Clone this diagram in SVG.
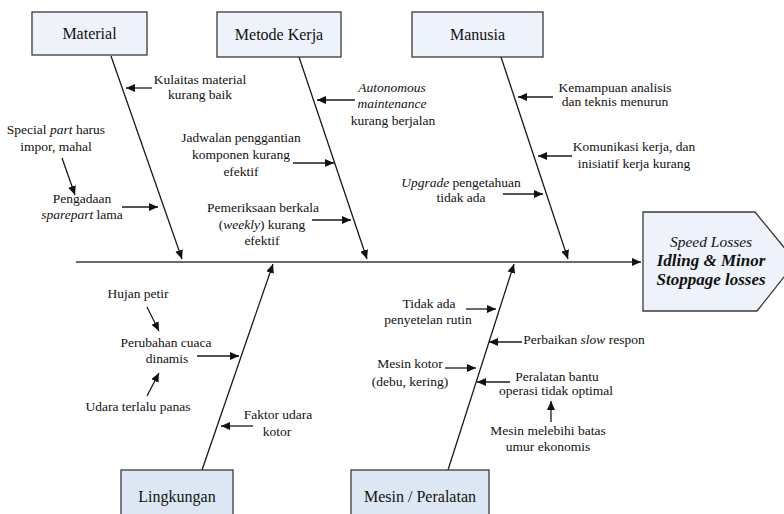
<svg xmlns="http://www.w3.org/2000/svg" width="784" height="514" viewBox="0 0 784 514">
<style>
text{font-family:"Liberation Serif","Times New Roman",serif;fill:#111;}
.lbl{font-size:13.5px;text-anchor:middle;}
.box{font-size:16px;text-anchor:middle;}
.bt{fill:#EEF2FA;stroke:#3a3a3a;stroke-width:1.3;}
.bb{fill:#DDE7F3;stroke:#3a3a3a;stroke-width:1.3;}
.ln{stroke:#1a1a1a;stroke-width:1.3;fill:none;marker-end:url(#ah);}
.sp{stroke:#3a3a3a;stroke-width:1.6;fill:none;marker-end:url(#ah);}
.it{font-style:italic;}
.hd{font-size:17px;font-style:italic;font-weight:bold;text-anchor:middle;}
</style>
<defs>
<marker id="ah" markerUnits="userSpaceOnUse" markerWidth="10" markerHeight="8" refX="9" refY="4" orient="auto">
<path d="M0,0 L9,4 L0,8 Z" fill="#111"/>
</marker>
</defs>
<rect width="784" height="514" fill="#fff"/>

<g id="connectors">
<line class="sp" x1="76" y1="262" x2="641" y2="262"/>
<line class="ln" x1="111" y1="56" x2="182" y2="259"/>
<line class="ln" x1="299" y1="57" x2="367" y2="259"/>
<line class="ln" x1="501" y1="57" x2="568" y2="259"/>
<line class="ln" x1="202" y1="470" x2="273" y2="264"/>
<line class="ln" x1="448" y1="470" x2="514" y2="264"/>
<line class="ln" x1="152" y1="88" x2="126" y2="88"/>
<line class="ln" x1="62" y1="158" x2="75" y2="195"/>
<line class="ln" x1="122" y1="207" x2="158" y2="207"/>
<line class="ln" x1="355" y1="100" x2="317" y2="100"/>
<line class="ln" x1="293" y1="163" x2="334" y2="163"/>
<line class="ln" x1="312" y1="220" x2="351" y2="220"/>
<line class="ln" x1="553" y1="97" x2="518" y2="97"/>
<line class="ln" x1="572" y1="156" x2="538" y2="156"/>
<line class="ln" x1="503" y1="194" x2="543" y2="194"/>
<line class="ln" x1="147" y1="307" x2="159" y2="331"/>
<line class="ln" x1="147" y1="396" x2="159" y2="373"/>
<line class="ln" x1="197" y1="356" x2="239" y2="356"/>
<line class="ln" x1="253" y1="426" x2="221" y2="426"/>
<line class="ln" x1="466" y1="309" x2="496" y2="309"/>
<line class="ln" x1="522" y1="342" x2="489" y2="342"/>
<line class="ln" x1="445" y1="368" x2="476" y2="368"/>
<line class="ln" x1="510" y1="382" x2="477" y2="382"/>
<line class="ln" x1="551" y1="422" x2="551" y2="401"/>
</g>

<g id="material">
<rect class="bt" x="32" y="12" width="115" height="43"/>
<text class="box" x="89.5" y="39">Material</text>
</g>
<g id="metode-kerja">
<rect class="bt" x="217" y="12" width="124" height="45"/>
<text class="box" x="279" y="40">Metode Kerja</text>
</g>
<g id="manusia">
<rect class="bt" x="412" y="12" width="131" height="45"/>
<text class="box" x="477.5" y="40">Manusia</text>
</g>
<g id="lingkungan">
<rect class="bb" x="121" y="470" width="112" height="50"/>
<text class="box" x="177" y="502">Lingkungan</text>
</g>
<g id="mesin">
<rect class="bb" x="351" y="470" width="138" height="50"/>
<text class="box" x="420" y="502">Mesin / Peralatan</text>
</g>
<g id="head">
<path class="bt" d="M643,212 L755,212 L796,262 L757,311 L643,311 Z"/>
<text x="711" y="247" style="font-size:15.5px;font-style:italic;text-anchor:middle">Speed Losses</text>
<text class="hd" x="711" y="266">Idling &amp; Minor</text>
<text class="hd" x="711" y="285">Stoppage losses</text>
</g>

<g id="labels-material">
<text class="lbl" x="200" y="84">Kulaitas material</text>
<text class="lbl" x="200" y="99">kurang baik</text>
<text class="lbl" x="56" y="134">Special <tspan class="it">part</tspan> harus</text>
<text class="lbl" x="56" y="151">impor, mahal</text>
<text class="lbl" x="82" y="203">Pengadaan</text>
<text class="lbl" x="82" y="219"><tspan class="it">sparepart</tspan> lama</text>
</g>
<g id="labels-metode">
<text class="lbl it" x="392" y="92">Autonomous</text>
<text class="lbl it" x="392" y="108">maintenance</text>
<text class="lbl" x="393" y="125">kurang berjalan</text>
<text class="lbl" x="241" y="142">Jadwalan penggantian</text>
<text class="lbl" x="241" y="159">komponen kurang</text>
<text class="lbl" x="241" y="176">efektif</text>
<text class="lbl" x="263" y="212">Pemeriksaan berkala</text>
<text class="lbl" x="262" y="229">(<tspan class="it">weekly</tspan>) kurang</text>
<text class="lbl" x="262" y="245">efektif</text>
</g>
<g id="labels-manusia">
<text class="lbl" x="615" y="92">Kemampuan analisis</text>
<text class="lbl" x="615" y="106">dan teknis menurun</text>
<text class="lbl" x="634" y="151">Komunikasi kerja, dan</text>
<text class="lbl" x="634" y="168">inisiatif kerja kurang</text>
<text class="lbl" x="461" y="187"><tspan class="it">Upgrade</tspan> pengetahuan</text>
<text class="lbl" x="461" y="202">tidak ada</text>
</g>
<g id="labels-lingkungan">
<text class="lbl" x="138" y="298">Hujan petir</text>
<text class="lbl" x="166" y="347">Perubahan cuaca</text>
<text class="lbl" x="167" y="363">dinamis</text>
<text class="lbl" x="138" y="411">Udara terlalu panas</text>
<text class="lbl" x="278" y="419">Faktor udara</text>
<text class="lbl" x="277" y="436">kotor</text>
</g>
<g id="labels-mesin">
<text class="lbl" x="429" y="308">Tidak ada</text>
<text class="lbl" x="428" y="324">penyetelan rutin</text>
<text class="lbl" x="584" y="344">Perbaikan <tspan class="it">slow</tspan> respon</text>
<text class="lbl" x="410" y="368">Mesin kotor</text>
<text class="lbl" x="410" y="386">(debu, kering)</text>
<text class="lbl" x="557" y="381">Peralatan bantu</text>
<text class="lbl" x="556" y="395">operasi tidak optimal</text>
<text class="lbl" x="548" y="435">Mesin melebihi batas</text>
<text class="lbl" x="548" y="451">umur ekonomis</text>
</g>
</svg>
